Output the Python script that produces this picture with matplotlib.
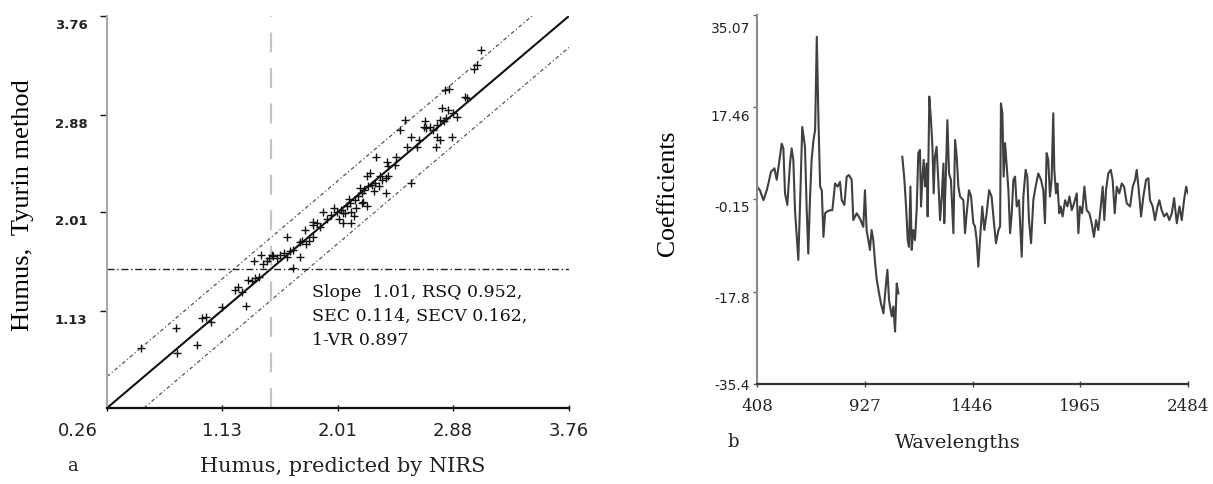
import numpy as np
import matplotlib
matplotlib.use('Agg')
import matplotlib.pyplot as plt
from matplotlib.transforms import ScaledTranslation

# ---- panel a: humus, predicted vs measured ----
ticks_a = [0.26, 1.13, 2.01, 2.88, 3.76]
tick_labels_a = ['0.26', '1.13', '2.01', '2.88', '3.76']
cutoff_a = 1.5

fit_x = [0.26, 3.76]
fit_y = [0.26, 3.76]
upper_x = [0.26, 3.48]
upper_y = [0.54, 3.76]
lower_x = [0.54, 3.76]
lower_y = [0.26, 3.48]

pred = [0.52, 0.78, 0.79, 0.94, 0.98, 1.01, 1.05, 1.13, 1.23, 1.25, 1.28, 1.31,
        1.33, 1.36, 1.38, 1.41, 1.37, 1.43, 1.44, 1.47, 1.49, 1.52, 1.55, 1.51,
        1.57, 1.60, 1.62, 1.65, 1.67, 1.62, 1.67, 1.72, 1.72, 1.74, 1.77, 1.79,
        1.82, 1.82, 1.85, 1.76, 1.82, 1.87, 1.90, 1.96, 2.00, 2.03, 2.05, 2.05,
        2.08, 2.09, 2.10, 2.11, 2.11, 2.13, 2.14, 2.16, 2.18, 2.19, 2.19, 2.21,
        2.23, 2.23, 2.24, 2.25, 2.27, 2.29, 2.32, 2.33, 2.34, 2.37, 2.37, 2.39,
        2.38, 2.39, 2.44, 2.45, 2.30, 2.53, 2.56, 2.48, 2.52, 2.61, 2.62, 2.67,
        2.66, 2.68, 2.71, 2.73, 2.76, 2.78, 2.81, 2.76, 2.78, 2.75, 2.80, 2.84,
        2.87, 2.83, 2.88, 2.91, 2.97, 2.99, 2.82, 2.85, 3.04, 3.06, 3.09, 2.56,
        2.02, 2.06, 2.15, 2.20, 2.28, 1.93, 1.98]
meas = [0.80, 0.97, 0.75, 0.82, 1.06, 1.07, 1.03, 1.16, 1.31, 1.34, 1.30, 1.17,
        1.40, 1.39, 1.42, 1.43, 1.57, 1.63, 1.55, 1.57, 1.60, 1.62, 1.60, 1.63,
        1.63, 1.64, 1.61, 1.66, 1.67, 1.79, 1.51, 1.61, 1.74, 1.75, 1.72, 1.75,
        1.79, 1.89, 1.91, 1.85, 1.92, 1.88, 2.01, 1.98, 2.01, 2.03, 2.00, 1.91,
        2.06, 2.13, 2.09, 2.01, 1.91, 1.97, 2.12, 2.15, 2.22, 2.18, 2.09, 2.21,
        2.33, 2.06, 2.24, 2.36, 2.25, 2.27, 2.24, 2.33, 2.30, 2.31, 2.18, 2.33,
        2.46, 2.42, 2.43, 2.50, 2.50, 2.59, 2.68, 2.74, 2.83, 2.59, 2.65, 2.82,
        2.77, 2.76, 2.77, 2.74, 2.79, 2.83, 2.82, 2.68, 2.65, 2.59, 2.94, 2.92,
        2.68, 2.85, 2.89, 2.86, 3.04, 3.03, 3.10, 3.11, 3.29, 3.32, 3.46, 2.27,
        1.95, 2.00, 2.05, 2.10, 2.20, 1.95, 2.05]

stats_text = 'Slope  1.01, RSQ 0.952,\nSEC 0.114, SECV 0.162,\n1-VR 0.897'

# ---- panel b: regression coefficients ----
ticks_b_x = [408, 927, 1446, 1965, 2484]
ticks_b_y = [-35.4, -17.8, -0.15, 17.46, 35.07]
tick_labels_b_y = ['-35.4', '-17.8', '-0.15', '17.46', '35.07']

wavelength = [408, 422, 439, 455, 463, 475, 492, 503, 514, 527, 535, 543, 554,
              567, 575, 583, 591, 607, 615, 626, 639, 647, 655, 663, 671, 680,
              688, 696, 704, 712, 720, 728, 736, 744, 760, 771, 784, 797, 808,
              816, 829, 840, 851, 864, 872, 888, 904, 920, 928, 936, 944, 952,
              960, 968, 977, 985, 996, 1005, 1017, 1028, 1036, 1044, 1057, 1065,
              1073, 1081, 1089,
              1098,
              1108, 1118, 1126, 1134, 1140, 1147, 1153, 1161, 1169, 1177, 1185,
              1193, 1198, 1204, 1211, 1217, 1225, 1230, 1238, 1246, 1253, 1259,
              1265, 1273, 1281, 1290, 1298, 1306, 1310, 1317, 1325, 1333, 1342,
              1354, 1362, 1370, 1378, 1386, 1402, 1410, 1418, 1429, 1439, 1450,
              1458, 1466, 1474, 1482, 1493, 1503, 1514, 1526, 1538, 1551, 1559,
              1571, 1579, 1583, 1590, 1596, 1603, 1611, 1619, 1627, 1635, 1643,
              1651, 1659, 1670, 1683, 1691, 1702, 1710, 1718, 1728, 1739, 1750,
              1763, 1776, 1787, 1795, 1803, 1811, 1819, 1827, 1835, 1840, 1848,
              1855, 1864, 1871, 1880, 1892, 1903, 1913, 1924, 1935, 1948, 1956,
              1964, 1974, 1985, 1996, 2009, 2020, 2031, 2041, 2052, 2064, 2073,
              2081, 2089, 2100, 2112, 2121, 2131, 2141, 2153, 2165, 2176, 2189,
              2205, 2218, 2229, 2237, 2247, 2258, 2269, 2282, 2293, 2301, 2314,
              2325, 2337, 2346, 2357, 2369, 2382, 2394, 2406, 2417, 2430, 2443,
              2454, 2465, 2475, 2484]
coefficient = [2.3, 1.6, -0.3, 1.6, 2.9, 5.1, 5.8, 3.6, 6.7, 10.5, 9.6, 1.0, -1.2,
               6.7, 9.6, 7.4, -2.2, -11.7, -1.5, 13.7, 9.9, -1.5, -10.5, -0.3,
               7.4, 11.2, 13.1, 30.9, 15.0, 2.3, 1.6, -7.3, -2.8, -2.5, -2.2,
               -2.2, 2.9, 2.3, 3.2, -0.3, -1.2, 4.2, 4.5, 3.6, -4.1, -2.8, -3.8,
               -5.4, 1.6, -6.0, -7.9, -9.8, -6.0, -7.9, -12.4, -15.5, -18.1,
               -20.0, -21.9, -16.8, -13.6, -19.4, -22.5, -20.6, -25.4, -16.2,
               -18.1,
               np.nan,
               8.0, 3.6, -1.5, -7.9, -9.2, 2.3, -9.8, -6.0, -7.9, -2.2, 8.7,
               9.3, -1.5, 3.6, 7.4, 2.3, 6.7, -3.4, 19.5, 15.0, 9.9, 1.0, 8.0,
               9.9, 3.6, -4.1, 0.4, 6.7, -4.7, 3.6, 15.0, 4.8, 3.6, -6.6, 11.2,
               8.0, 2.3, 0.4, -0.3, -6.6, -2.8, 1.6, 0.4, -4.7, -5.3, -7.9,
               -13.0, -7.9, -1.5, -6.0, -2.8, 1.6, 0.4, -5.3, -8.5, -6.0, -5.3,
               18.2, 16.3, 4.2, 10.6, 6.1, 1.6, -6.6, -2.8, 3.6, 4.2, -1.5,
               -0.3, -11.1, 0.4, 5.5, 4.2, -4.1, -8.5, -0.3, 2.3, 4.8, 3.6, 1.6,
               -4.7, 8.7, 7.4, 0.4, 3.6, 16.3, 5.5, 1.0, 2.9, -2.8, -1.5, -3.4,
               -0.3, -1.5, 0.4, -2.2, -0.9, 1.0, -6.6, -1.5, -2.8, 2.3, -2.2,
               -2.8, -4.7, -7.3, -4.1, -6.0, -1.5, 2.3, -4.1, 1.6, 4.8, 5.5, 3.6,
               -2.8, 2.3, 1.0, 2.9, 2.3, -0.9, -1.5, 2.3, 3.6, 5.5, 1.6, -3.4,
               0.4, 3.6, 3.9, -0.3, -1.5, -4.1, -1.5, -0.3, -2.2, -3.4, -2.8,
               -4.1, -2.8, 0.1, -4.7, -1.5, -4.1, -0.3, 2.3, 1.0]

W, H = 1213, 484
fig = plt.figure(figsize=(W / 100, H / 100), dpi=100)


def px_offset(dx, dy):
    return ScaledTranslation(dx / 100, dy / 100, fig.dpi_scale_trans)


# panel a
ax1 = fig.add_axes([107 / W, 1 - 408 / H, 462 / W, 392 / H])
ax1.set_xlim(0.26, 3.76)
ax1.set_ylim(0.26, 3.76)
for s in ['top', 'right']:
    ax1.spines[s].set_visible(False)
ax1.spines['left'].set_color('#a8a8a8')
ax1.spines['left'].set_linewidth(1.5)
ax1.spines['bottom'].set_color('#111111')
ax1.spines['bottom'].set_linewidth(1.6)

ax1.plot(fit_x, fit_y, color='#111111', lw=1.5)
ax1.plot(upper_x, upper_y, color='#555555', lw=0.9, ls=(0, (3, 2, 1, 2)))
ax1.plot(lower_x, lower_y, color='#555555', lw=0.9, ls=(0, (3, 2, 1, 2)))
ax1.axvline(cutoff_a, color='#c4c4c4', lw=1.6, ls=(0, (9, 7)))
ax1.axhline(cutoff_a, color='#222222', lw=1.0, ls=(0, (5, 2, 1, 2)))
ax1.plot(pred, meas, ls='none', marker='+', ms=6, mew=1.0, color='#111111')

ax1.set_xticks(ticks_a)
ax1.set_xticklabels(tick_labels_a, fontsize=13, family='DejaVu Sans', color='#222222')
ax1.set_yticks(ticks_a[1:])
ax1.set_yticklabels(tick_labels_a[1:], fontsize=9.5, family='DejaVu Sans',
                    fontweight='bold', color='#222222')
ax1.tick_params(axis='x', direction='inout', length=4, width=1, pad=8, color='#111111')
ax1.tick_params(axis='y', direction='out', length=5, width=1, pad=9, color='#111111')
for lab in ax1.get_yticklabels():
    lab.set_transform(lab.get_transform() + px_offset(0, -8))
first = ax1.get_xticklabels()[0]
first.set_horizontalalignment('right')
first.set_transform(first.get_transform() + px_offset(-9, 0))

ax1.text(1.81, 1.37, stats_text, fontsize=12.5, family='DejaVu Serif',
         va='top', ha='left', linespacing=1.55, color='#111111')

fig.text(23 / W, 1 - 205 / H, 'Humus,  Tyurin method', rotation=90, fontsize=19,
         family='Liberation Serif', ha='center', va='center')
fig.text(343 / W, 1 - 467 / H, 'Humus, predicted by NIRS', fontsize=15,
         family='DejaVu Serif', ha='center', va='center', color='#222222')
fig.text(73 / W, 1 - 466 / H, 'a', fontsize=13, family='DejaVu Serif',
         ha='center', va='center', color='#222222')

# panel b
ax2 = fig.add_axes([757 / W, 1 - 384 / H, 431 / W, 369 / H])
ax2.set_xlim(408, 2484)
ax2.set_ylim(-35.4, 35.07)
for s in ['top', 'right']:
    ax2.spines[s].set_visible(False)
ax2.spines['left'].set_color('#8a8a8a')
ax2.spines['left'].set_linewidth(1.5)
ax2.spines['bottom'].set_color('#333333')
ax2.spines['bottom'].set_linewidth(1.6)

ax2.plot(wavelength, coefficient, color='#404040', lw=1.5)

ax2.set_xticks(ticks_b_x)
ax2.set_xticklabels([str(v) for v in ticks_b_x], fontsize=12, family='DejaVu Serif',
                    color='#222222')
ax2.set_yticks(ticks_b_y)
ax2.set_yticklabels(tick_labels_b_y, fontsize=10, family='DejaVu Sans', color='#222222')
ax2.tick_params(axis='x', direction='inout', length=4, width=1, pad=8, color='#444444')
ax2.tick_params(axis='y', direction='out', length=3, width=1, pad=2, color='#666666')
label_drop = [0, 6, 7, 8, 12]
for lab, d in zip(ax2.get_yticklabels(), label_drop):
    lab.set_transform(lab.get_transform() + px_offset(0, -d))

fig.text(668 / W, 1 - 193 / H, 'Coefficients', rotation=90, fontsize=18.5,
         family='Liberation Serif', ha='center', va='center')
fig.text(958 / W, 1 - 443 / H, 'Wavelengths', fontsize=14, family='DejaVu Serif',
         ha='center', va='center', color='#222222')
fig.text(733 / W, 1 - 442 / H, 'b', fontsize=13, family='DejaVu Serif',
         ha='center', va='center', color='#222222')

fig.savefig('out.png', dpi=100)
